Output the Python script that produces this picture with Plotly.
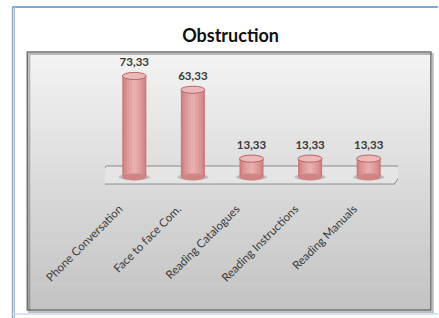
import plotly.graph_objects as go

categories = ["Phone Conversation", "Face to face Com.", "Reading Catalogues",
              "Reading Instructions", "Reading Manuals"]
values = [73.33, 63.33, 13.33, 13.33, 13.33]

W, H = 439, 318
YMIN, YMAX = -5.8, 83.5
BARW = 0.41
EH = 2.6

fig = go.Figure()

# cylinder body: overlaid bars of decreasing width for a shaded look
shades = [(BARW, "#c97878"), (0.36, "#d48a8a"), (0.28, "#dc9797"), (0.18, "#e3a3a3"), (0.08, "#e8aeae")]
for w, c in shades:
    fig.add_trace(go.Bar(x=categories, y=values, width=w, marker=dict(color=c, line=dict(width=0)),
                         hoverinfo="skip", showlegend=False))

# data labels
fig.add_trace(go.Scatter(x=categories, y=[v + EH + 2.5 for v in values], mode="text",
                         text=["<b>" + f"{v:.2f}".replace(".", ",") + "</b>" for v in values],
                         textposition="top center", cliponaxis=False,
                         textfont=dict(family="Lato", size=11.5, color="#3a3a3a"),
                         showlegend=False, hoverinfo="skip"))


def px_to_paper_x(px):
    return (px - 105) / 294


def px_to_paper_y(py):
    return (185 - py) / 123


shapes = []
# plot box with vertical gradient
bx0, bx1, by0, by1 = 27, 432, 52, 310
n = 30
top = (243, 243, 243)
bot = (196, 196, 196)
for i in range(n):
    t = i / (n - 1)
    col = tuple(int(top[k] + (bot[k] - top[k]) * t) for k in range(3))
    ya = by0 + (by1 - by0) * i / n
    yb = by0 + (by1 - by0) * (i + 1) / n + 0.5
    shapes.append(dict(type="rect", xref="paper", yref="paper",
                       x0=px_to_paper_x(bx0), x1=px_to_paper_x(bx1),
                       y0=px_to_paper_y(yb), y1=px_to_paper_y(ya),
                       fillcolor="rgb(%d,%d,%d)" % col, line=dict(width=0), layer="below"))

# outer frame lines
shapes.append(dict(type="line", xref="paper", yref="paper",
                   x0=px_to_paper_x(12), x1=px_to_paper_x(439), y0=px_to_paper_y(7), y1=px_to_paper_y(7),
                   line=dict(color="#7ea6dc", width=2), layer="below"))
shapes.append(dict(type="line", xref="paper", yref="paper",
                   x0=px_to_paper_x(12), x1=px_to_paper_x(12), y0=px_to_paper_y(7), y1=px_to_paper_y(318),
                   line=dict(color="#8a8a8a", width=1), layer="below"))
shapes.append(dict(type="line", xref="paper", yref="paper",
                   x0=px_to_paper_x(14), x1=px_to_paper_x(14), y0=px_to_paper_y(7), y1=px_to_paper_y(318),
                   line=dict(color="#9cc0ec", width=1.5), layer="below"))
shapes.append(dict(type="line", xref="paper", yref="paper",
                   x0=px_to_paper_x(12), x1=px_to_paper_x(439), y0=px_to_paper_y(314), y1=px_to_paper_y(314),
                   line=dict(color="#c7daf0", width=1.5), layer="below"))
# box shadow + border
shapes.append(dict(type="rect", xref="paper", yref="paper",
                   x0=px_to_paper_x(bx0 + 2), x1=px_to_paper_x(bx1 + 2),
                   y0=px_to_paper_y(by1 + 2), y1=px_to_paper_y(by0 + 2),
                   line=dict(color="rgba(0,0,0,0.25)", width=2), layer="below"))
shapes.append(dict(type="rect", xref="paper", yref="paper",
                   x0=px_to_paper_x(bx0), x1=px_to_paper_x(bx1),
                   y0=px_to_paper_y(by1), y1=px_to_paper_y(by0),
                   line=dict(color="#707070", width=1.5), layer="below"))

# floor parallelogram in data coords
fx = [-0.66, 4.44, 4.64, -0.48]
fy = [-5.1, -5.1, 8.0, 8.0]
path = "M {} {} L {} {} L {} {} L {} {} Z".format(fx[0], fy[0], fx[1], fy[1], fx[2], fy[2], fx[3], fy[3])
shapes.append(dict(type="path", xref="x", yref="y", path=path,
                   fillcolor="rgba(235,235,235,0.6)", line=dict(color="#8c8c8c", width=1), layer="below"))

# ellipses for cylinder bottom shadow, bottom and top
for i, v in enumerate(values):
    shapes.append(dict(type="circle", xref="x", yref="y",
                       x0=i - BARW / 2 - 0.06, x1=i + BARW / 2 + 0.06, y0=-EH * 0.9, y1=EH * 0.9,
                       fillcolor="rgba(120,120,120,0.35)", line=dict(width=0), layer="below"))
for i, v in enumerate(values):
    shapes.append(dict(type="circle", xref="x", yref="y",
                       x0=i - BARW / 2, x1=i + BARW / 2, y0=-EH, y1=EH,
                       fillcolor="#d08585", line=dict(width=0), layer="above"))
    shapes.append(dict(type="circle", xref="x", yref="y",
                       x0=i - BARW / 2, x1=i + BARW / 2, y0=v - EH, y1=v + EH,
                       fillcolor="#ebb9b9", line=dict(color="#b86565", width=1), layer="above"))

fig.update_layout(
    width=W, height=H,
    margin=dict(l=105, r=41, t=62, b=133, autoexpand=False),
    paper_bgcolor="white", plot_bgcolor="rgba(0,0,0,0)",
    barmode="overlay",
    title=dict(text="<b>Obstruction</b>", x=(231 - 105) / 294, xref="paper", xanchor="center",
               y=1 - 36 / H, yanchor="middle",
               font=dict(family="Lato", size=18, color="#111111")),
    xaxis=dict(range=[-0.5, 4.5], showgrid=False, zeroline=False, showline=False, automargin=False,
               ticks="", tickangle=-45, ticklabelstandoff=14, ticklabelshift=-15,
               tickfont=dict(family="Lato", size=11.5, color="#3a3a3a")),
    yaxis=dict(range=[YMIN, YMAX], visible=False, showgrid=False, zeroline=False, automargin=False),
    shapes=shapes,
)

fig.write_html("out.html", config={"displayModeBar": False},
               post_script="document.body.style.margin='0';")
